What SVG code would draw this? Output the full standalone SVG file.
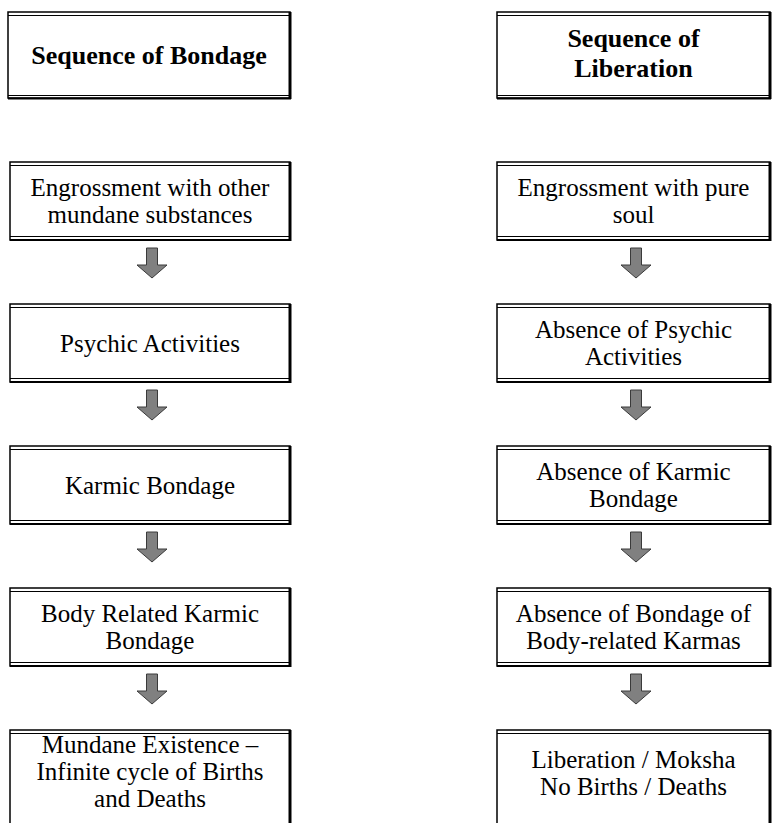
<svg xmlns="http://www.w3.org/2000/svg" width="777" height="823" viewBox="0 0 777 823">
<style>
.bx{fill:#fff;stroke:#000;stroke-width:1.5}
.in{fill:none;stroke:#000;stroke-width:1}
.rt{fill:none;stroke:#000;stroke-width:3}
.bt{fill:none;stroke:#000;stroke-width:2}
text{font-family:'Liberation Serif','DejaVu Serif',serif;font-size:25px;fill:#000;text-anchor:middle}
.ttl{font-weight:bold;font-size:26px}
.arr{fill:#808080;stroke:#3a3a3a;stroke-width:1}
</style>
<defs>
<polygon id="arw" class="arr" points="-5.5,0 5.5,0 5.5,17 15,17 0,30 -15,17 -5.5,17 -5.5,0"/>
</defs>
<rect width="777" height="823" fill="#fff"/>

<g id="title-bondage" font-family="Liberation Serif, DejaVu Serif, serif">
<rect class="bx" x="8" y="12" width="282" height="86"/>
<path class="in" d="M8 15.5H290M8 95.5H290"/>
<path class="rt" d="M290 12V99"/><path class="bt" d="M8 98.5H291"/>
<text class="ttl" x="149" y="64">Sequence of Bondage</text>
</g>
<g id="title-liberation">
<rect class="bx" x="497" y="12" width="273" height="86"/>
<path class="in" d="M497 15.5H770M497 95.5H770"/>
<path class="rt" d="M770 12V99"/><path class="bt" d="M497 98.5H771"/>
<text class="ttl" x="633.5" y="47">Sequence of</text>
<text class="ttl" x="633.5" y="77">Liberation</text>
</g>

<g id="b1">
<rect class="bx" x="10" y="162" width="280" height="78"/>
<path class="in" d="M10 165.5H290M10 236.5H290"/><path class="rt" d="M290 162V241"/><path class="bt" d="M10 240H291"/>
<text x="150" y="195.5">Engrossment with other</text>
<text x="150" y="222.5">mundane substances</text>
</g>
<g id="b2">
<rect class="bx" x="10" y="304" width="280" height="78"/>
<path class="in" d="M10 307.5H290M10 378.5H290"/><path class="rt" d="M290 304V383"/><path class="bt" d="M10 382H291"/>
<text x="150" y="351.5">Psychic Activities</text>
</g>
<g id="b3">
<rect class="bx" x="10" y="446" width="280" height="78"/>
<path class="in" d="M10 449.5H290M10 520.5H290"/><path class="rt" d="M290 446V525"/><path class="bt" d="M10 524H291"/>
<text x="150" y="493.5">Karmic Bondage</text>
</g>
<g id="b4">
<rect class="bx" x="10" y="588" width="280" height="78"/>
<path class="in" d="M10 591.5H290M10 662.5H290"/><path class="rt" d="M290 588V667"/><path class="bt" d="M10 666H291"/>
<text x="150" y="621.5">Body Related Karmic</text>
<text x="150" y="648.5">Bondage</text>
</g>
<g id="b5">
<rect class="bx" x="10" y="730" width="280" height="100"/>
<path class="in" d="M10 733.5H290"/><path class="rt" d="M290 730V830"/>
<text x="150" y="753">Mundane Existence –</text>
<text x="150" y="780">Infinite cycle of Births</text>
<text x="150" y="807">and Deaths</text>
</g>

<g id="l1">
<rect class="bx" x="497" y="162" width="273" height="78"/>
<path class="in" d="M497 165.5H770M497 236.5H770"/><path class="rt" d="M770 162V241"/><path class="bt" d="M497 240H771"/>
<text x="633.5" y="195.5">Engrossment with pure</text>
<text x="633.5" y="222.5">soul</text>
</g>
<g id="l2">
<rect class="bx" x="497" y="304" width="273" height="78"/>
<path class="in" d="M497 307.5H770M497 378.5H770"/><path class="rt" d="M770 304V383"/><path class="bt" d="M497 382H771"/>
<text x="633.5" y="337.5">Absence of Psychic</text>
<text x="633.5" y="364.5">Activities</text>
</g>
<g id="l3">
<rect class="bx" x="497" y="446" width="273" height="78"/>
<path class="in" d="M497 449.5H770M497 520.5H770"/><path class="rt" d="M770 446V525"/><path class="bt" d="M497 524H771"/>
<text x="633.5" y="479.5">Absence of Karmic</text>
<text x="633.5" y="506.5">Bondage</text>
</g>
<g id="l4">
<rect class="bx" x="497" y="588" width="273" height="78"/>
<path class="in" d="M497 591.5H770M497 662.5H770"/><path class="rt" d="M770 588V667"/><path class="bt" d="M497 666H771"/>
<text x="633.5" y="621.5">Absence of Bondage of</text>
<text x="633.5" y="648.5">Body-related Karmas</text>
</g>
<g id="l5">
<rect class="bx" x="497" y="730" width="273" height="100"/>
<path class="in" d="M497 733.5H770"/><path class="rt" d="M770 730V830"/>
<text x="633.5" y="768">Liberation / Moksha</text>
<text x="633.5" y="795">No Births / Deaths</text>
</g>

<g id="connectors">
<use href="#arw" x="152" y="248"/>
<use href="#arw" x="152" y="390"/>
<use href="#arw" x="152" y="532"/>
<use href="#arw" x="152" y="674"/>
<use href="#arw" x="636" y="248"/>
<use href="#arw" x="636" y="390"/>
<use href="#arw" x="636" y="532"/>
<use href="#arw" x="636" y="674"/>
</g>
</svg>
